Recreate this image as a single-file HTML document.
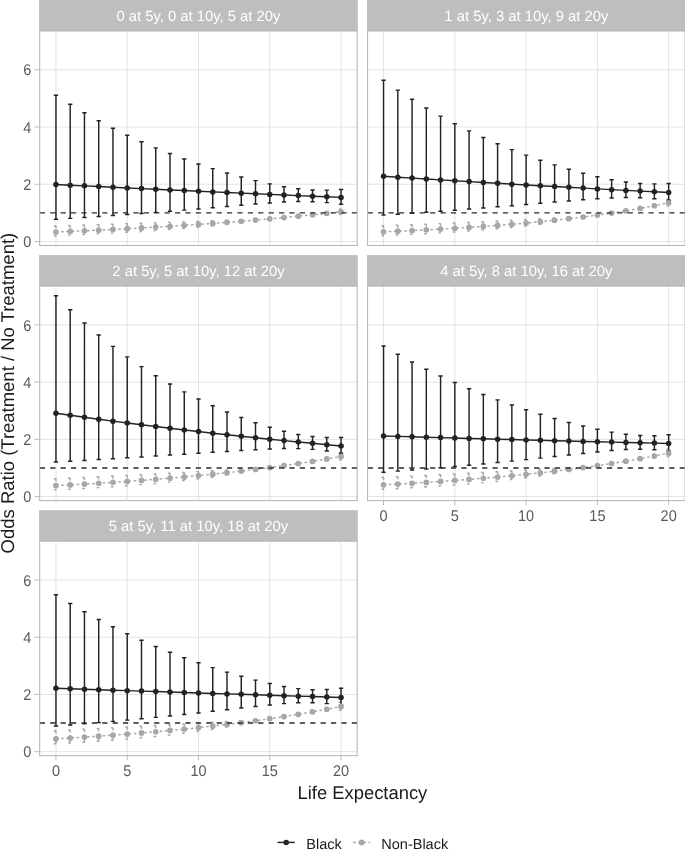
<!DOCTYPE html><html><head><meta charset="utf-8"><style>html,body{margin:0;padding:0;background:#fff;}svg{display:block;will-change:transform;text-rendering:geometricPrecision;}</style></head><body>
<svg width="685" height="862" viewBox="0 0 685 862" font-family='"Liberation Sans", sans-serif'>
<rect width="685" height="862" fill="#fff"/>
<defs><clipPath id="c0"><rect x="39.10" y="31.00" width="318.70" height="214.50"/></clipPath></defs>
<rect x="39.10" y="0.00" width="318.70" height="31.00" fill="#BDBEC0"/>
<text x="198.45" y="20.60" font-size="14.8" fill="#fff" text-anchor="middle">0 at 5y, 0 at 10y, 5 at 20y</text>
<g clip-path="url(#c0)">
<line x1="39.10" x2="357.80" y1="241.50" y2="241.50" stroke="#E0E0E0" stroke-width="0.9"/>
<line x1="39.10" x2="357.80" y1="184.26" y2="184.26" stroke="#E0E0E0" stroke-width="0.9"/>
<line x1="39.10" x2="357.80" y1="127.02" y2="127.02" stroke="#E0E0E0" stroke-width="0.9"/>
<line x1="39.10" x2="357.80" y1="69.78" y2="69.78" stroke="#E0E0E0" stroke-width="0.9"/>
<line x1="55.95" x2="55.95" y1="31.00" y2="245.50" stroke="#E0E0E0" stroke-width="0.9"/>
<line x1="127.23" x2="127.23" y1="31.00" y2="245.50" stroke="#E0E0E0" stroke-width="0.9"/>
<line x1="198.50" x2="198.50" y1="31.00" y2="245.50" stroke="#E0E0E0" stroke-width="0.9"/>
<line x1="269.78" x2="269.78" y1="31.00" y2="245.50" stroke="#E0E0E0" stroke-width="0.9"/>
<line x1="341.05" x2="341.05" y1="31.00" y2="245.50" stroke="#E0E0E0" stroke-width="0.9"/>
<path d="M53.81 225.99H58.09M55.95 225.99V235.68M53.81 235.68H58.09" stroke="#A6A7A9" stroke-width="1.45" fill="none" stroke-dasharray="2.6 2.6"/>
<path d="M68.07 225.54H72.34M70.20 225.54V235.12M68.07 235.12H72.34" stroke="#A6A7A9" stroke-width="1.45" fill="none" stroke-dasharray="2.6 2.6"/>
<path d="M82.32 225.07H86.60M84.46 225.07V234.52M82.32 234.52H86.60" stroke="#A6A7A9" stroke-width="1.45" fill="none" stroke-dasharray="2.6 2.6"/>
<path d="M96.58 224.60H100.85M98.72 224.60V233.85M96.58 233.85H100.85" stroke="#A6A7A9" stroke-width="1.45" fill="none" stroke-dasharray="2.6 2.6"/>
<path d="M110.83 224.11H115.11M112.97 224.11V233.13M110.83 233.13H115.11" stroke="#A6A7A9" stroke-width="1.45" fill="none" stroke-dasharray="2.6 2.6"/>
<path d="M125.09 223.63H129.36M127.23 223.63V232.34M125.09 232.34H129.36" stroke="#A6A7A9" stroke-width="1.45" fill="none" stroke-dasharray="2.6 2.6"/>
<path d="M139.34 223.14H143.62M141.48 223.14V231.48M139.34 231.48H143.62" stroke="#A6A7A9" stroke-width="1.45" fill="none" stroke-dasharray="2.6 2.6"/>
<path d="M153.60 222.64H157.87M155.74 222.64V230.54M153.60 230.54H157.87" stroke="#A6A7A9" stroke-width="1.45" fill="none" stroke-dasharray="2.6 2.6"/>
<path d="M167.85 222.14H172.13M169.99 222.14V229.51M167.85 229.51H172.13" stroke="#A6A7A9" stroke-width="1.45" fill="none" stroke-dasharray="2.6 2.6"/>
<path d="M182.11 221.64H186.38M184.25 221.64V228.39M182.11 228.39H186.38" stroke="#A6A7A9" stroke-width="1.45" fill="none" stroke-dasharray="2.6 2.6"/>
<path d="M196.36 221.15H200.64M198.50 221.15V227.15M196.36 227.15H200.64" stroke="#A6A7A9" stroke-width="1.45" fill="none" stroke-dasharray="2.6 2.6"/>
<path d="M210.62 220.68H214.89M212.75 220.68V225.79M210.62 225.79H214.89" stroke="#A6A7A9" stroke-width="1.45" fill="none" stroke-dasharray="2.6 2.6"/>
<path d="M224.87 220.24H229.15M227.01 220.24V224.27M224.87 224.27H229.15" stroke="#A6A7A9" stroke-width="1.45" fill="none" stroke-dasharray="2.6 2.6"/>
<path d="M239.13 219.91H243.40M241.26 219.91V222.51M239.13 222.51H243.40" stroke="#A6A7A9" stroke-width="1.45" fill="none" stroke-dasharray="2.6 2.6"/>
<path d="M253.38 219.23H257.66M255.52 219.23V220.91M253.38 220.91H257.66" stroke="#A6A7A9" stroke-width="1.45" fill="none" stroke-dasharray="2.6 2.6"/>
<path d="M267.64 217.95H271.91M269.78 217.95V219.73M267.64 219.73H271.91" stroke="#A6A7A9" stroke-width="1.45" fill="none" stroke-dasharray="2.6 2.6"/>
<path d="M281.89 216.61H286.17M284.03 216.61V218.49M281.89 218.49H286.17" stroke="#A6A7A9" stroke-width="1.45" fill="none" stroke-dasharray="2.6 2.6"/>
<path d="M296.15 215.21H300.42M298.29 215.21V217.19M296.15 217.19H300.42" stroke="#A6A7A9" stroke-width="1.45" fill="none" stroke-dasharray="2.6 2.6"/>
<path d="M310.40 213.73H314.68M312.54 213.73V215.82M310.40 215.82H314.68" stroke="#A6A7A9" stroke-width="1.45" fill="none" stroke-dasharray="2.6 2.6"/>
<path d="M324.66 212.10H328.93M326.80 212.10V214.46M324.66 214.46H328.93" stroke="#A6A7A9" stroke-width="1.45" fill="none" stroke-dasharray="2.6 2.6"/>
<path d="M338.91 208.97H343.19M341.05 208.97V214.26M338.91 214.26H343.19" stroke="#A6A7A9" stroke-width="1.45" fill="none" stroke-dasharray="2.6 2.6"/>
<path d="M53.81 95.25H58.09M55.95 95.25V219.25M53.81 219.25H58.09M68.07 104.30H72.34M70.20 104.30V218.37M68.07 218.37H72.34M82.32 112.78H86.60M84.46 112.78V217.46M82.32 217.46H86.60M96.58 120.73H100.85M98.72 120.73V216.51M96.58 216.51H100.85M110.83 128.19H115.11M112.97 128.19V215.53M110.83 215.53H115.11M125.09 135.18H129.36M127.23 135.18V214.51M125.09 214.51H129.36M139.34 141.72H143.62M141.48 141.72V213.46M139.34 213.46H143.62M153.60 147.86H157.87M155.74 147.86V212.38M153.60 212.38H157.87M167.85 153.59H172.13M169.99 153.59V211.26M167.85 211.26H172.13M182.11 158.96H186.38M184.25 158.96V210.10M182.11 210.10H186.38M196.36 163.97H200.64M198.50 163.97V208.92M196.36 208.92H200.64M210.62 168.64H214.89M212.75 168.64V207.72M210.62 207.72H214.89M224.87 172.97H229.15M227.01 172.97V206.50M224.87 206.50H229.15M239.13 176.97H243.40M241.26 176.97V205.28M239.13 205.28H243.40M253.38 180.63H257.66M255.52 180.63V204.09M253.38 204.09H257.66M267.64 183.89H271.91M269.78 183.89V202.99M267.64 202.99H271.91M281.89 186.67H286.17M284.03 186.67V202.08M281.89 202.08H286.17M296.15 188.79H300.42M298.29 188.79V201.56M296.15 201.56H300.42M310.40 189.97H314.68M312.54 189.97V201.70M310.40 201.70H314.68M324.66 190.11H328.93M326.80 190.11V202.63M324.66 202.63H328.93M338.91 189.41H343.19M341.05 189.41V204.16M338.91 204.16H343.19" stroke="#222222" stroke-width="1.45" fill="none"/>
<path d="M55.95 184.46L70.20 185.17L84.46 185.87L98.72 186.56L112.97 187.25L127.23 187.93L141.48 188.61L155.74 189.28L169.99 189.94L184.25 190.59L198.50 191.24L212.75 191.89L227.01 192.52L241.26 193.15L255.52 193.78L269.78 194.40L284.03 195.01L298.29 195.61L312.54 196.21L326.80 196.81L341.05 197.40" stroke="#222222" stroke-width="1.45" fill="none"/>
<path d="M55.95 232.00L70.20 231.41L84.46 230.79L98.72 230.13L112.97 229.44L127.23 228.71L141.48 227.94L155.74 227.12L169.99 226.27L184.25 225.36L198.50 224.41L212.75 223.41L227.01 222.36L241.26 221.25L255.52 220.08L269.78 218.86L284.03 217.57L298.29 216.22L312.54 214.79L326.80 213.30L341.05 211.74" stroke="#A6A7A9" stroke-width="1.45" fill="none" stroke-dasharray="2.6 2.6"/>
<circle cx="55.95" cy="184.46" r="2.75" fill="#222222"/>
<circle cx="55.95" cy="232.00" r="2.85" fill="#A6A7A9"/>
<circle cx="70.20" cy="185.17" r="2.75" fill="#222222"/>
<circle cx="70.20" cy="231.41" r="2.85" fill="#A6A7A9"/>
<circle cx="84.46" cy="185.87" r="2.75" fill="#222222"/>
<circle cx="84.46" cy="230.79" r="2.85" fill="#A6A7A9"/>
<circle cx="98.72" cy="186.56" r="2.75" fill="#222222"/>
<circle cx="98.72" cy="230.13" r="2.85" fill="#A6A7A9"/>
<circle cx="112.97" cy="187.25" r="2.75" fill="#222222"/>
<circle cx="112.97" cy="229.44" r="2.85" fill="#A6A7A9"/>
<circle cx="127.23" cy="187.93" r="2.75" fill="#222222"/>
<circle cx="127.23" cy="228.71" r="2.85" fill="#A6A7A9"/>
<circle cx="141.48" cy="188.61" r="2.75" fill="#222222"/>
<circle cx="141.48" cy="227.94" r="2.85" fill="#A6A7A9"/>
<circle cx="155.74" cy="189.28" r="2.75" fill="#222222"/>
<circle cx="155.74" cy="227.12" r="2.85" fill="#A6A7A9"/>
<circle cx="169.99" cy="189.94" r="2.75" fill="#222222"/>
<circle cx="169.99" cy="226.27" r="2.85" fill="#A6A7A9"/>
<circle cx="184.25" cy="190.59" r="2.75" fill="#222222"/>
<circle cx="184.25" cy="225.36" r="2.85" fill="#A6A7A9"/>
<circle cx="198.50" cy="191.24" r="2.75" fill="#222222"/>
<circle cx="198.50" cy="224.41" r="2.85" fill="#A6A7A9"/>
<circle cx="212.75" cy="191.89" r="2.75" fill="#222222"/>
<circle cx="212.75" cy="223.41" r="2.85" fill="#A6A7A9"/>
<circle cx="227.01" cy="192.52" r="2.75" fill="#222222"/>
<circle cx="227.01" cy="222.36" r="2.85" fill="#A6A7A9"/>
<circle cx="241.26" cy="193.15" r="2.75" fill="#222222"/>
<circle cx="241.26" cy="221.25" r="2.85" fill="#A6A7A9"/>
<circle cx="255.52" cy="193.78" r="2.75" fill="#222222"/>
<circle cx="255.52" cy="220.08" r="2.85" fill="#A6A7A9"/>
<circle cx="269.78" cy="194.40" r="2.75" fill="#222222"/>
<circle cx="269.78" cy="218.86" r="2.85" fill="#A6A7A9"/>
<circle cx="284.03" cy="195.01" r="2.75" fill="#222222"/>
<circle cx="284.03" cy="217.57" r="2.85" fill="#A6A7A9"/>
<circle cx="298.29" cy="195.61" r="2.75" fill="#222222"/>
<circle cx="298.29" cy="216.22" r="2.85" fill="#A6A7A9"/>
<circle cx="312.54" cy="196.21" r="2.75" fill="#222222"/>
<circle cx="312.54" cy="214.79" r="2.85" fill="#A6A7A9"/>
<circle cx="326.80" cy="196.81" r="2.75" fill="#222222"/>
<circle cx="326.80" cy="213.30" r="2.85" fill="#A6A7A9"/>
<circle cx="341.05" cy="197.40" r="2.75" fill="#222222"/>
<circle cx="341.05" cy="211.74" r="2.85" fill="#A6A7A9"/>
<line x1="39.10" x2="357.80" y1="212.88" y2="212.88" stroke="#2a2a2a" stroke-width="1.45" stroke-dasharray="5.2 5.2" stroke-dashoffset="-0.7"/>
</g>
<path d="M39.10 31.00H357.80M39.10 245.50H357.80M39.70 31.00V245.50M357.20 31.00V245.50" fill="none" stroke="#B3B3B3" stroke-width="1.0"/>
<line x1="34.60" x2="39.10" y1="241.50" y2="241.50" stroke="#B3B3B3" stroke-width="0.9"/>
<text transform="translate(31.30,247.20) scale(1,1.07)" font-size="14.5" fill="#595959" text-anchor="end">0</text>
<line x1="34.60" x2="39.10" y1="184.26" y2="184.26" stroke="#B3B3B3" stroke-width="0.9"/>
<text transform="translate(31.30,189.96) scale(1,1.07)" font-size="14.5" fill="#595959" text-anchor="end">2</text>
<line x1="34.60" x2="39.10" y1="127.02" y2="127.02" stroke="#B3B3B3" stroke-width="0.9"/>
<text transform="translate(31.30,132.72) scale(1,1.07)" font-size="14.5" fill="#595959" text-anchor="end">4</text>
<line x1="34.60" x2="39.10" y1="69.78" y2="69.78" stroke="#B3B3B3" stroke-width="0.9"/>
<text transform="translate(31.30,75.48) scale(1,1.07)" font-size="14.5" fill="#595959" text-anchor="end">6</text>
<defs><clipPath id="c1"><rect x="367.00" y="31.00" width="318.70" height="214.50"/></clipPath></defs>
<rect x="367.00" y="0.00" width="318.70" height="31.00" fill="#BDBEC0"/>
<text x="526.35" y="20.60" font-size="14.8" fill="#fff" text-anchor="middle">1 at 5y, 3 at 10y, 9 at 20y</text>
<g clip-path="url(#c1)">
<line x1="367.00" x2="685.70" y1="241.50" y2="241.50" stroke="#E0E0E0" stroke-width="0.9"/>
<line x1="367.00" x2="685.70" y1="184.26" y2="184.26" stroke="#E0E0E0" stroke-width="0.9"/>
<line x1="367.00" x2="685.70" y1="127.02" y2="127.02" stroke="#E0E0E0" stroke-width="0.9"/>
<line x1="367.00" x2="685.70" y1="69.78" y2="69.78" stroke="#E0E0E0" stroke-width="0.9"/>
<line x1="383.55" x2="383.55" y1="31.00" y2="245.50" stroke="#E0E0E0" stroke-width="0.9"/>
<line x1="454.83" x2="454.83" y1="31.00" y2="245.50" stroke="#E0E0E0" stroke-width="0.9"/>
<line x1="526.10" x2="526.10" y1="31.00" y2="245.50" stroke="#E0E0E0" stroke-width="0.9"/>
<line x1="597.38" x2="597.38" y1="31.00" y2="245.50" stroke="#E0E0E0" stroke-width="0.9"/>
<line x1="668.65" x2="668.65" y1="31.00" y2="245.50" stroke="#E0E0E0" stroke-width="0.9"/>
<path d="M381.41 225.67H385.69M383.55 225.67V235.55M381.41 235.55H385.69" stroke="#A6A7A9" stroke-width="1.45" fill="none" stroke-dasharray="2.6 2.6"/>
<path d="M395.67 225.20H399.94M397.81 225.20V234.99M395.67 234.99H399.94" stroke="#A6A7A9" stroke-width="1.45" fill="none" stroke-dasharray="2.6 2.6"/>
<path d="M409.92 224.70H414.20M412.06 224.70V234.36M409.92 234.36H414.20" stroke="#A6A7A9" stroke-width="1.45" fill="none" stroke-dasharray="2.6 2.6"/>
<path d="M424.18 224.18H428.45M426.31 224.18V233.67M424.18 233.67H428.45" stroke="#A6A7A9" stroke-width="1.45" fill="none" stroke-dasharray="2.6 2.6"/>
<path d="M438.43 223.62H442.71M440.57 223.62V232.89M438.43 232.89H442.71" stroke="#A6A7A9" stroke-width="1.45" fill="none" stroke-dasharray="2.6 2.6"/>
<path d="M452.69 223.02H456.96M454.83 223.02V232.03M452.69 232.03H456.96" stroke="#A6A7A9" stroke-width="1.45" fill="none" stroke-dasharray="2.6 2.6"/>
<path d="M466.94 222.40H471.22M469.08 222.40V231.08M466.94 231.08H471.22" stroke="#A6A7A9" stroke-width="1.45" fill="none" stroke-dasharray="2.6 2.6"/>
<path d="M481.20 221.73H485.47M483.34 221.73V230.01M481.20 230.01H485.47" stroke="#A6A7A9" stroke-width="1.45" fill="none" stroke-dasharray="2.6 2.6"/>
<path d="M495.45 221.03H499.73M497.59 221.03V228.82M495.45 228.82H499.73" stroke="#A6A7A9" stroke-width="1.45" fill="none" stroke-dasharray="2.6 2.6"/>
<path d="M509.71 220.29H513.98M511.85 220.29V227.49M509.71 227.49H513.98" stroke="#A6A7A9" stroke-width="1.45" fill="none" stroke-dasharray="2.6 2.6"/>
<path d="M523.96 219.52H528.24M526.10 219.52V226.00M523.96 226.00H528.24" stroke="#A6A7A9" stroke-width="1.45" fill="none" stroke-dasharray="2.6 2.6"/>
<path d="M538.22 218.72H542.49M540.36 218.72V224.31M538.22 224.31H542.49" stroke="#A6A7A9" stroke-width="1.45" fill="none" stroke-dasharray="2.6 2.6"/>
<path d="M552.47 217.91H556.75M554.61 217.91V222.38M552.47 222.38H556.75" stroke="#A6A7A9" stroke-width="1.45" fill="none" stroke-dasharray="2.6 2.6"/>
<path d="M566.73 217.18H571.00M568.87 217.18V220.11M566.73 220.11H571.00" stroke="#A6A7A9" stroke-width="1.45" fill="none" stroke-dasharray="2.6 2.6"/>
<path d="M580.98 216.00H585.26M583.12 216.00V217.92M580.98 217.92H585.26" stroke="#A6A7A9" stroke-width="1.45" fill="none" stroke-dasharray="2.6 2.6"/>
<path d="M595.24 214.05H599.51M597.38 214.05V216.12M595.24 216.12H599.51" stroke="#A6A7A9" stroke-width="1.45" fill="none" stroke-dasharray="2.6 2.6"/>
<path d="M609.49 211.94H613.77M611.63 211.94V214.17M609.49 214.17H613.77" stroke="#A6A7A9" stroke-width="1.45" fill="none" stroke-dasharray="2.6 2.6"/>
<path d="M623.75 209.63H628.02M625.88 209.63V212.03M623.75 212.03H628.02" stroke="#A6A7A9" stroke-width="1.45" fill="none" stroke-dasharray="2.6 2.6"/>
<path d="M638.00 207.10H642.28M640.14 207.10V209.69M638.00 209.69H642.28" stroke="#A6A7A9" stroke-width="1.45" fill="none" stroke-dasharray="2.6 2.6"/>
<path d="M652.26 204.24H656.53M654.39 204.24V207.23M652.26 207.23H656.53" stroke="#A6A7A9" stroke-width="1.45" fill="none" stroke-dasharray="2.6 2.6"/>
<path d="M666.51 199.28H670.79M668.65 199.28V206.14M666.51 206.14H670.79" stroke="#A6A7A9" stroke-width="1.45" fill="none" stroke-dasharray="2.6 2.6"/>
<path d="M381.41 80.25H385.69M383.55 80.25V215.12M381.41 215.12H385.69M395.67 90.10H399.94M397.81 90.10V214.19M395.67 214.19H399.94M409.92 99.33H414.20M412.06 99.33V213.23M409.92 213.23H414.20M424.18 107.99H428.45M426.31 107.99V212.24M424.18 212.24H428.45M438.43 116.11H442.71M440.57 116.11V211.22M438.43 211.22H442.71M452.69 123.72H456.96M454.83 123.72V210.17M452.69 210.17H456.96M466.94 130.86H471.22M469.08 130.86V209.08M466.94 209.08H471.22M481.20 137.54H485.47M483.34 137.54V207.97M481.20 207.97H485.47M495.45 143.79H499.73M497.59 143.79V206.83M495.45 206.83H499.73M509.71 149.64H513.98M511.85 149.64V205.67M509.71 205.67H513.98M523.96 155.10H528.24M526.10 155.10V204.48M523.96 204.48H528.24M538.22 160.18H542.49M540.36 160.18V203.29M538.22 203.29H542.49M552.47 164.89H556.75M554.61 164.89V202.09M552.47 202.09H556.75M566.73 169.23H571.00M568.87 169.23V200.90M566.73 200.90H571.00M580.98 173.19H585.26M583.12 173.19V199.77M580.98 199.77H585.26M595.24 176.71H599.51M597.38 176.71V198.76M595.24 198.76H599.51M609.49 179.71H613.77M611.63 179.71V197.96M609.49 197.96H613.77M623.75 182.02H628.02M625.88 182.02V197.56M623.75 197.56H628.02M638.00 183.45H642.28M640.14 183.45V197.77M638.00 197.77H642.28M652.26 183.88H656.53M654.39 183.88V198.71M652.26 198.71H656.53M666.51 183.46H670.79M668.65 183.46V200.23M666.51 200.23H670.79" stroke="#222222" stroke-width="1.45" fill="none"/>
<path d="M383.55 176.28L397.81 177.19L412.06 178.10L426.31 179.00L440.57 179.88L454.83 180.75L469.08 181.61L483.34 182.46L497.59 183.30L511.85 184.13L526.10 184.95L540.36 185.75L554.61 186.55L568.87 187.34L583.12 188.11L597.38 188.88L611.63 189.63L625.88 190.38L640.14 191.12L654.39 191.84L668.65 192.56" stroke="#222222" stroke-width="1.45" fill="none"/>
<path d="M383.55 231.80L397.81 231.20L412.06 230.55L426.31 229.85L440.57 229.09L454.83 228.28L469.08 227.39L483.34 226.43L497.59 225.39L511.85 224.26L526.10 223.04L540.36 221.71L554.61 220.26L568.87 218.69L583.12 216.98L597.38 215.11L611.63 213.07L625.88 210.85L640.14 208.42L654.39 205.77L668.65 202.86" stroke="#A6A7A9" stroke-width="1.45" fill="none" stroke-dasharray="2.6 2.6"/>
<circle cx="383.55" cy="176.28" r="2.75" fill="#222222"/>
<circle cx="383.55" cy="231.80" r="2.85" fill="#A6A7A9"/>
<circle cx="397.81" cy="177.19" r="2.75" fill="#222222"/>
<circle cx="397.81" cy="231.20" r="2.85" fill="#A6A7A9"/>
<circle cx="412.06" cy="178.10" r="2.75" fill="#222222"/>
<circle cx="412.06" cy="230.55" r="2.85" fill="#A6A7A9"/>
<circle cx="426.31" cy="179.00" r="2.75" fill="#222222"/>
<circle cx="426.31" cy="229.85" r="2.85" fill="#A6A7A9"/>
<circle cx="440.57" cy="179.88" r="2.75" fill="#222222"/>
<circle cx="440.57" cy="229.09" r="2.85" fill="#A6A7A9"/>
<circle cx="454.83" cy="180.75" r="2.75" fill="#222222"/>
<circle cx="454.83" cy="228.28" r="2.85" fill="#A6A7A9"/>
<circle cx="469.08" cy="181.61" r="2.75" fill="#222222"/>
<circle cx="469.08" cy="227.39" r="2.85" fill="#A6A7A9"/>
<circle cx="483.34" cy="182.46" r="2.75" fill="#222222"/>
<circle cx="483.34" cy="226.43" r="2.85" fill="#A6A7A9"/>
<circle cx="497.59" cy="183.30" r="2.75" fill="#222222"/>
<circle cx="497.59" cy="225.39" r="2.85" fill="#A6A7A9"/>
<circle cx="511.85" cy="184.13" r="2.75" fill="#222222"/>
<circle cx="511.85" cy="224.26" r="2.85" fill="#A6A7A9"/>
<circle cx="526.10" cy="184.95" r="2.75" fill="#222222"/>
<circle cx="526.10" cy="223.04" r="2.85" fill="#A6A7A9"/>
<circle cx="540.36" cy="185.75" r="2.75" fill="#222222"/>
<circle cx="540.36" cy="221.71" r="2.85" fill="#A6A7A9"/>
<circle cx="554.61" cy="186.55" r="2.75" fill="#222222"/>
<circle cx="554.61" cy="220.26" r="2.85" fill="#A6A7A9"/>
<circle cx="568.87" cy="187.34" r="2.75" fill="#222222"/>
<circle cx="568.87" cy="218.69" r="2.85" fill="#A6A7A9"/>
<circle cx="583.12" cy="188.11" r="2.75" fill="#222222"/>
<circle cx="583.12" cy="216.98" r="2.85" fill="#A6A7A9"/>
<circle cx="597.38" cy="188.88" r="2.75" fill="#222222"/>
<circle cx="597.38" cy="215.11" r="2.85" fill="#A6A7A9"/>
<circle cx="611.63" cy="189.63" r="2.75" fill="#222222"/>
<circle cx="611.63" cy="213.07" r="2.85" fill="#A6A7A9"/>
<circle cx="625.88" cy="190.38" r="2.75" fill="#222222"/>
<circle cx="625.88" cy="210.85" r="2.85" fill="#A6A7A9"/>
<circle cx="640.14" cy="191.12" r="2.75" fill="#222222"/>
<circle cx="640.14" cy="208.42" r="2.85" fill="#A6A7A9"/>
<circle cx="654.39" cy="191.84" r="2.75" fill="#222222"/>
<circle cx="654.39" cy="205.77" r="2.85" fill="#A6A7A9"/>
<circle cx="668.65" cy="192.56" r="2.75" fill="#222222"/>
<circle cx="668.65" cy="202.86" r="2.85" fill="#A6A7A9"/>
<line x1="367.00" x2="685.70" y1="212.88" y2="212.88" stroke="#2a2a2a" stroke-width="1.45" stroke-dasharray="5.2 5.2" stroke-dashoffset="-0.7"/>
</g>
<path d="M367.00 31.00H685.70M367.00 245.50H685.70M367.60 31.00V245.50M685.10 31.00V245.50" fill="none" stroke="#B3B3B3" stroke-width="1.0"/>
<defs><clipPath id="c2"><rect x="39.10" y="286.10" width="318.70" height="214.50"/></clipPath></defs>
<rect x="39.10" y="255.10" width="318.70" height="31.00" fill="#BDBEC0"/>
<text x="198.45" y="275.70" font-size="14.8" fill="#fff" text-anchor="middle">2 at 5y, 5 at 10y, 12 at 20y</text>
<g clip-path="url(#c2)">
<line x1="39.10" x2="357.80" y1="496.60" y2="496.60" stroke="#E0E0E0" stroke-width="0.9"/>
<line x1="39.10" x2="357.80" y1="439.36" y2="439.36" stroke="#E0E0E0" stroke-width="0.9"/>
<line x1="39.10" x2="357.80" y1="382.12" y2="382.12" stroke="#E0E0E0" stroke-width="0.9"/>
<line x1="39.10" x2="357.80" y1="324.88" y2="324.88" stroke="#E0E0E0" stroke-width="0.9"/>
<line x1="55.95" x2="55.95" y1="286.10" y2="500.60" stroke="#E0E0E0" stroke-width="0.9"/>
<line x1="127.23" x2="127.23" y1="286.10" y2="500.60" stroke="#E0E0E0" stroke-width="0.9"/>
<line x1="198.50" x2="198.50" y1="286.10" y2="500.60" stroke="#E0E0E0" stroke-width="0.9"/>
<line x1="269.78" x2="269.78" y1="286.10" y2="500.60" stroke="#E0E0E0" stroke-width="0.9"/>
<line x1="341.05" x2="341.05" y1="286.10" y2="500.60" stroke="#E0E0E0" stroke-width="0.9"/>
<path d="M53.81 478.67H58.09M55.95 478.67V489.87M53.81 489.87H58.09" stroke="#A6A7A9" stroke-width="1.45" fill="none" stroke-dasharray="2.6 2.6"/>
<path d="M68.07 478.05H72.34M70.20 478.05V489.19M68.07 489.19H72.34" stroke="#A6A7A9" stroke-width="1.45" fill="none" stroke-dasharray="2.6 2.6"/>
<path d="M82.32 477.42H86.60M84.46 477.42V488.45M82.32 488.45H86.60" stroke="#A6A7A9" stroke-width="1.45" fill="none" stroke-dasharray="2.6 2.6"/>
<path d="M96.58 476.77H100.85M98.72 476.77V487.63M96.58 487.63H100.85" stroke="#A6A7A9" stroke-width="1.45" fill="none" stroke-dasharray="2.6 2.6"/>
<path d="M110.83 476.09H115.11M112.97 476.09V486.73M110.83 486.73H115.11" stroke="#A6A7A9" stroke-width="1.45" fill="none" stroke-dasharray="2.6 2.6"/>
<path d="M125.09 475.39H129.36M127.23 475.39V485.74M125.09 485.74H129.36" stroke="#A6A7A9" stroke-width="1.45" fill="none" stroke-dasharray="2.6 2.6"/>
<path d="M139.34 474.68H143.62M141.48 474.68V484.64M139.34 484.64H143.62" stroke="#A6A7A9" stroke-width="1.45" fill="none" stroke-dasharray="2.6 2.6"/>
<path d="M153.60 473.94H157.87M155.74 473.94V483.43M153.60 483.43H157.87" stroke="#A6A7A9" stroke-width="1.45" fill="none" stroke-dasharray="2.6 2.6"/>
<path d="M167.85 473.18H172.13M169.99 473.18V482.10M167.85 482.10H172.13" stroke="#A6A7A9" stroke-width="1.45" fill="none" stroke-dasharray="2.6 2.6"/>
<path d="M182.11 472.40H186.38M184.25 472.40V480.62M182.11 480.62H186.38" stroke="#A6A7A9" stroke-width="1.45" fill="none" stroke-dasharray="2.6 2.6"/>
<path d="M196.36 471.62H200.64M198.50 471.62V478.98M196.36 478.98H200.64" stroke="#A6A7A9" stroke-width="1.45" fill="none" stroke-dasharray="2.6 2.6"/>
<path d="M210.62 470.83H214.89M212.75 470.83V477.16M210.62 477.16H214.89" stroke="#A6A7A9" stroke-width="1.45" fill="none" stroke-dasharray="2.6 2.6"/>
<path d="M224.87 470.07H229.15M227.01 470.07V475.10M224.87 475.10H229.15" stroke="#A6A7A9" stroke-width="1.45" fill="none" stroke-dasharray="2.6 2.6"/>
<path d="M239.13 469.43H243.40M241.26 469.43V472.70M239.13 472.70H243.40" stroke="#A6A7A9" stroke-width="1.45" fill="none" stroke-dasharray="2.6 2.6"/>
<path d="M253.38 468.32H257.66M255.52 468.32V470.45M253.38 470.45H257.66" stroke="#A6A7A9" stroke-width="1.45" fill="none" stroke-dasharray="2.6 2.6"/>
<path d="M267.64 466.43H271.91M269.78 466.43V468.70M267.64 468.70H271.91" stroke="#A6A7A9" stroke-width="1.45" fill="none" stroke-dasharray="2.6 2.6"/>
<path d="M281.89 464.40H286.17M284.03 464.40V466.83M281.89 466.83H286.17" stroke="#A6A7A9" stroke-width="1.45" fill="none" stroke-dasharray="2.6 2.6"/>
<path d="M296.15 462.24H300.42M298.29 462.24V464.83M296.15 464.83H300.42" stroke="#A6A7A9" stroke-width="1.45" fill="none" stroke-dasharray="2.6 2.6"/>
<path d="M310.40 459.93H314.68M312.54 459.93V462.70M310.40 462.70H314.68" stroke="#A6A7A9" stroke-width="1.45" fill="none" stroke-dasharray="2.6 2.6"/>
<path d="M324.66 457.37H328.93M326.80 457.37V460.51M324.66 460.51H328.93" stroke="#A6A7A9" stroke-width="1.45" fill="none" stroke-dasharray="2.6 2.6"/>
<path d="M338.91 452.72H343.19M341.05 452.72V459.86M338.91 459.86H343.19" stroke="#A6A7A9" stroke-width="1.45" fill="none" stroke-dasharray="2.6 2.6"/>
<path d="M53.81 295.72H58.09M55.95 295.72V462.05M53.81 462.05H58.09M68.07 309.80H72.34M70.20 309.80V461.23M68.07 461.23H72.34M82.32 322.90H86.60M84.46 322.90V460.40M82.32 460.40H86.60M96.58 335.06H100.85M98.72 335.06V459.55M96.58 459.55H100.85M110.83 346.37H115.11M112.97 346.37V458.69M110.83 458.69H115.11M125.09 356.87H129.36M127.23 356.87V457.81M125.09 457.81H129.36M139.34 366.62H143.62M141.48 366.62V456.92M139.34 456.92H143.62M153.60 375.68H157.87M155.74 375.68V456.01M153.60 456.01H157.87M167.85 384.08H172.13M169.99 384.08V455.09M167.85 455.09H172.13M182.11 391.87H186.38M184.25 391.87V454.17M182.11 454.17H186.38M196.36 399.09H200.64M198.50 399.09V453.24M196.36 453.24H200.64M210.62 405.77H214.89M212.75 405.77V452.31M210.62 452.31H214.89M224.87 411.92H229.15M227.01 411.92V451.40M224.87 451.40H229.15M239.13 417.58H243.40M241.26 417.58V450.52M239.13 450.52H243.40M253.38 422.73H257.66M255.52 422.73V449.71M253.38 449.71H257.66M267.64 427.33H271.91M269.78 427.33V449.02M267.64 449.02H271.91M281.89 431.31H286.17M284.03 431.31V448.58M281.89 448.58H286.17M296.15 434.48H300.42M298.29 434.48V448.60M296.15 448.60H300.42M310.40 436.56H314.68M312.54 436.56V449.35M310.40 449.35H314.68M324.66 437.47H328.93M326.80 437.47V450.97M324.66 450.97H328.93M338.91 437.47H343.19M341.05 437.47V453.20M338.91 453.20H343.19" stroke="#222222" stroke-width="1.45" fill="none"/>
<path d="M55.95 413.29L70.20 415.32L84.46 417.30L98.72 419.24L112.97 421.13L127.23 422.98L141.48 424.78L155.74 426.54L169.99 428.26L184.25 429.94L198.50 431.58L212.75 433.17L227.01 434.73L241.26 436.26L255.52 437.74L269.78 439.19L284.03 440.61L298.29 441.99L312.54 443.34L326.80 444.66L341.05 445.94" stroke="#222222" stroke-width="1.45" fill="none"/>
<path d="M55.95 485.61L70.20 484.88L84.46 484.10L98.72 483.26L112.97 482.37L127.23 481.42L141.48 480.41L155.74 479.33L169.99 478.17L184.25 476.94L198.50 475.62L212.75 474.22L227.01 472.72L241.26 471.12L255.52 469.41L269.78 467.59L284.03 465.64L298.29 463.56L312.54 461.34L326.80 458.97L341.05 456.45" stroke="#A6A7A9" stroke-width="1.45" fill="none" stroke-dasharray="2.6 2.6"/>
<circle cx="55.95" cy="413.29" r="2.75" fill="#222222"/>
<circle cx="55.95" cy="485.61" r="2.85" fill="#A6A7A9"/>
<circle cx="70.20" cy="415.32" r="2.75" fill="#222222"/>
<circle cx="70.20" cy="484.88" r="2.85" fill="#A6A7A9"/>
<circle cx="84.46" cy="417.30" r="2.75" fill="#222222"/>
<circle cx="84.46" cy="484.10" r="2.85" fill="#A6A7A9"/>
<circle cx="98.72" cy="419.24" r="2.75" fill="#222222"/>
<circle cx="98.72" cy="483.26" r="2.85" fill="#A6A7A9"/>
<circle cx="112.97" cy="421.13" r="2.75" fill="#222222"/>
<circle cx="112.97" cy="482.37" r="2.85" fill="#A6A7A9"/>
<circle cx="127.23" cy="422.98" r="2.75" fill="#222222"/>
<circle cx="127.23" cy="481.42" r="2.85" fill="#A6A7A9"/>
<circle cx="141.48" cy="424.78" r="2.75" fill="#222222"/>
<circle cx="141.48" cy="480.41" r="2.85" fill="#A6A7A9"/>
<circle cx="155.74" cy="426.54" r="2.75" fill="#222222"/>
<circle cx="155.74" cy="479.33" r="2.85" fill="#A6A7A9"/>
<circle cx="169.99" cy="428.26" r="2.75" fill="#222222"/>
<circle cx="169.99" cy="478.17" r="2.85" fill="#A6A7A9"/>
<circle cx="184.25" cy="429.94" r="2.75" fill="#222222"/>
<circle cx="184.25" cy="476.94" r="2.85" fill="#A6A7A9"/>
<circle cx="198.50" cy="431.58" r="2.75" fill="#222222"/>
<circle cx="198.50" cy="475.62" r="2.85" fill="#A6A7A9"/>
<circle cx="212.75" cy="433.17" r="2.75" fill="#222222"/>
<circle cx="212.75" cy="474.22" r="2.85" fill="#A6A7A9"/>
<circle cx="227.01" cy="434.73" r="2.75" fill="#222222"/>
<circle cx="227.01" cy="472.72" r="2.85" fill="#A6A7A9"/>
<circle cx="241.26" cy="436.26" r="2.75" fill="#222222"/>
<circle cx="241.26" cy="471.12" r="2.85" fill="#A6A7A9"/>
<circle cx="255.52" cy="437.74" r="2.75" fill="#222222"/>
<circle cx="255.52" cy="469.41" r="2.85" fill="#A6A7A9"/>
<circle cx="269.78" cy="439.19" r="2.75" fill="#222222"/>
<circle cx="269.78" cy="467.59" r="2.85" fill="#A6A7A9"/>
<circle cx="284.03" cy="440.61" r="2.75" fill="#222222"/>
<circle cx="284.03" cy="465.64" r="2.85" fill="#A6A7A9"/>
<circle cx="298.29" cy="441.99" r="2.75" fill="#222222"/>
<circle cx="298.29" cy="463.56" r="2.85" fill="#A6A7A9"/>
<circle cx="312.54" cy="443.34" r="2.75" fill="#222222"/>
<circle cx="312.54" cy="461.34" r="2.85" fill="#A6A7A9"/>
<circle cx="326.80" cy="444.66" r="2.75" fill="#222222"/>
<circle cx="326.80" cy="458.97" r="2.85" fill="#A6A7A9"/>
<circle cx="341.05" cy="445.94" r="2.75" fill="#222222"/>
<circle cx="341.05" cy="456.45" r="2.85" fill="#A6A7A9"/>
<line x1="39.10" x2="357.80" y1="467.98" y2="467.98" stroke="#2a2a2a" stroke-width="1.45" stroke-dasharray="5.2 5.2" stroke-dashoffset="-0.7"/>
</g>
<path d="M39.10 286.10H357.80M39.10 500.60H357.80M39.70 286.10V500.60M357.20 286.10V500.60" fill="none" stroke="#B3B3B3" stroke-width="1.0"/>
<line x1="34.60" x2="39.10" y1="496.60" y2="496.60" stroke="#B3B3B3" stroke-width="0.9"/>
<text transform="translate(31.30,502.30) scale(1,1.07)" font-size="14.5" fill="#595959" text-anchor="end">0</text>
<line x1="34.60" x2="39.10" y1="439.36" y2="439.36" stroke="#B3B3B3" stroke-width="0.9"/>
<text transform="translate(31.30,445.06) scale(1,1.07)" font-size="14.5" fill="#595959" text-anchor="end">2</text>
<line x1="34.60" x2="39.10" y1="382.12" y2="382.12" stroke="#B3B3B3" stroke-width="0.9"/>
<text transform="translate(31.30,387.82) scale(1,1.07)" font-size="14.5" fill="#595959" text-anchor="end">4</text>
<line x1="34.60" x2="39.10" y1="324.88" y2="324.88" stroke="#B3B3B3" stroke-width="0.9"/>
<text transform="translate(31.30,330.58) scale(1,1.07)" font-size="14.5" fill="#595959" text-anchor="end">6</text>
<defs><clipPath id="c3"><rect x="367.00" y="286.10" width="318.70" height="214.50"/></clipPath></defs>
<rect x="367.00" y="255.10" width="318.70" height="31.00" fill="#BDBEC0"/>
<text x="526.35" y="275.70" font-size="14.8" fill="#fff" text-anchor="middle">4 at 5y, 8 at 10y, 16 at 20y</text>
<g clip-path="url(#c3)">
<line x1="367.00" x2="685.70" y1="496.60" y2="496.60" stroke="#E0E0E0" stroke-width="0.9"/>
<line x1="367.00" x2="685.70" y1="439.36" y2="439.36" stroke="#E0E0E0" stroke-width="0.9"/>
<line x1="367.00" x2="685.70" y1="382.12" y2="382.12" stroke="#E0E0E0" stroke-width="0.9"/>
<line x1="367.00" x2="685.70" y1="324.88" y2="324.88" stroke="#E0E0E0" stroke-width="0.9"/>
<line x1="383.55" x2="383.55" y1="286.10" y2="500.60" stroke="#E0E0E0" stroke-width="0.9"/>
<line x1="454.83" x2="454.83" y1="286.10" y2="500.60" stroke="#E0E0E0" stroke-width="0.9"/>
<line x1="526.10" x2="526.10" y1="286.10" y2="500.60" stroke="#E0E0E0" stroke-width="0.9"/>
<line x1="597.38" x2="597.38" y1="286.10" y2="500.60" stroke="#E0E0E0" stroke-width="0.9"/>
<line x1="668.65" x2="668.65" y1="286.10" y2="500.60" stroke="#E0E0E0" stroke-width="0.9"/>
<path d="M381.41 477.36H385.69M383.55 477.36V489.37M381.41 489.37H385.69" stroke="#A6A7A9" stroke-width="1.45" fill="none" stroke-dasharray="2.6 2.6"/>
<path d="M395.67 476.75H399.94M397.81 476.75V488.67M395.67 488.67H399.94" stroke="#A6A7A9" stroke-width="1.45" fill="none" stroke-dasharray="2.6 2.6"/>
<path d="M409.92 476.11H414.20M412.06 476.11V487.89M409.92 487.89H414.20" stroke="#A6A7A9" stroke-width="1.45" fill="none" stroke-dasharray="2.6 2.6"/>
<path d="M424.18 475.45H428.45M426.31 475.45V487.04M424.18 487.04H428.45" stroke="#A6A7A9" stroke-width="1.45" fill="none" stroke-dasharray="2.6 2.6"/>
<path d="M438.43 474.77H442.71M440.57 474.77V486.09M438.43 486.09H442.71" stroke="#A6A7A9" stroke-width="1.45" fill="none" stroke-dasharray="2.6 2.6"/>
<path d="M452.69 474.05H456.96M454.83 474.05V485.05M452.69 485.05H456.96" stroke="#A6A7A9" stroke-width="1.45" fill="none" stroke-dasharray="2.6 2.6"/>
<path d="M466.94 473.31H471.22M469.08 473.31V483.90M466.94 483.90H471.22" stroke="#A6A7A9" stroke-width="1.45" fill="none" stroke-dasharray="2.6 2.6"/>
<path d="M481.20 472.54H485.47M483.34 472.54V482.62M481.20 482.62H485.47" stroke="#A6A7A9" stroke-width="1.45" fill="none" stroke-dasharray="2.6 2.6"/>
<path d="M495.45 471.75H499.73M497.59 471.75V481.21M495.45 481.21H499.73" stroke="#A6A7A9" stroke-width="1.45" fill="none" stroke-dasharray="2.6 2.6"/>
<path d="M509.71 470.93H513.98M511.85 470.93V479.64M509.71 479.64H513.98" stroke="#A6A7A9" stroke-width="1.45" fill="none" stroke-dasharray="2.6 2.6"/>
<path d="M523.96 470.08H528.24M526.10 470.08V477.90M523.96 477.90H528.24" stroke="#A6A7A9" stroke-width="1.45" fill="none" stroke-dasharray="2.6 2.6"/>
<path d="M538.22 469.23H542.49M540.36 469.23V475.95M538.22 475.95H542.49" stroke="#A6A7A9" stroke-width="1.45" fill="none" stroke-dasharray="2.6 2.6"/>
<path d="M552.47 468.40H556.75M554.61 468.40V473.75M552.47 473.75H556.75" stroke="#A6A7A9" stroke-width="1.45" fill="none" stroke-dasharray="2.6 2.6"/>
<path d="M566.73 467.68H571.00M568.87 467.68V471.17M566.73 471.17H571.00" stroke="#A6A7A9" stroke-width="1.45" fill="none" stroke-dasharray="2.6 2.6"/>
<path d="M580.98 466.46H585.26M583.12 466.46V468.74M580.98 468.74H585.26" stroke="#A6A7A9" stroke-width="1.45" fill="none" stroke-dasharray="2.6 2.6"/>
<path d="M595.24 464.39H599.51M597.38 464.39V466.82M595.24 466.82H599.51" stroke="#A6A7A9" stroke-width="1.45" fill="none" stroke-dasharray="2.6 2.6"/>
<path d="M609.49 462.15H613.77M611.63 462.15V464.75M609.49 464.75H613.77" stroke="#A6A7A9" stroke-width="1.45" fill="none" stroke-dasharray="2.6 2.6"/>
<path d="M623.75 459.75H628.02M625.88 459.75V462.53M623.75 462.53H628.02" stroke="#A6A7A9" stroke-width="1.45" fill="none" stroke-dasharray="2.6 2.6"/>
<path d="M638.00 457.18H642.28M640.14 457.18V460.15M638.00 460.15H642.28" stroke="#A6A7A9" stroke-width="1.45" fill="none" stroke-dasharray="2.6 2.6"/>
<path d="M652.26 454.29H656.53M654.39 454.29V457.68M652.26 457.68H656.53" stroke="#A6A7A9" stroke-width="1.45" fill="none" stroke-dasharray="2.6 2.6"/>
<path d="M666.51 449.12H670.79M668.65 449.12V456.85M666.51 456.85H670.79" stroke="#A6A7A9" stroke-width="1.45" fill="none" stroke-dasharray="2.6 2.6"/>
<path d="M381.41 346.06H385.69M383.55 346.06V472.17M381.41 472.17H385.69M395.67 354.23H399.94M397.81 354.23V471.13M395.67 471.13H399.94M409.92 361.94H414.20M412.06 361.94V470.04M409.92 470.04H414.20M424.18 369.22H428.45M426.31 369.22V468.92M424.18 468.92H428.45M438.43 376.08H442.71M440.57 376.08V467.74M438.43 467.74H442.71M452.69 382.57H456.96M454.83 382.57V466.51M452.69 466.51H456.96M466.94 388.68H471.22M469.08 388.68V465.24M466.94 465.24H471.22M481.20 394.44H485.47M483.34 394.44V463.92M481.20 463.92H485.47M495.45 399.87H499.73M497.59 399.87V462.54M495.45 462.54H499.73M509.71 404.99H513.98M511.85 404.99V461.12M509.71 461.12H513.98M523.96 409.80H528.24M526.10 409.80V459.64M523.96 459.64H528.24M538.22 414.31H542.49M540.36 414.31V458.13M538.22 458.13H542.49M552.47 418.52H556.75M554.61 418.52V456.57M552.47 456.57H556.75M566.73 422.44H571.00M568.87 422.44V455.00M566.73 455.00H571.00M580.98 426.05H585.26M583.12 426.05V453.43M580.98 453.43H585.26M595.24 429.30H599.51M597.38 429.30V451.92M595.24 451.92H599.51M609.49 432.10H613.77M611.63 432.10V450.57M609.49 450.57H613.77M623.75 434.28H628.02M625.88 434.28V449.56M623.75 449.56H628.02M638.00 435.55H642.28M640.14 435.55V449.18M638.00 449.18H642.28M652.26 435.68H656.53M654.39 435.68V449.66M652.26 449.66H656.53M666.51 434.78H670.79M668.65 434.78V450.91M666.51 450.91H670.79" stroke="#222222" stroke-width="1.45" fill="none"/>
<path d="M383.55 435.95L397.81 436.38L412.06 436.80L426.31 437.21L440.57 437.62L454.83 438.03L469.08 438.42L483.34 438.82L497.59 439.20L511.85 439.58L526.10 439.96L540.36 440.33L554.61 440.70L568.87 441.06L583.12 441.42L597.38 441.77L611.63 442.11L625.88 442.46L640.14 442.79L654.39 443.12L668.65 443.45" stroke="#222222" stroke-width="1.45" fill="none"/>
<path d="M383.55 484.81L397.81 484.05L412.06 483.24L426.31 482.38L440.57 481.45L454.83 480.46L469.08 479.40L483.34 478.26L497.59 477.04L511.85 475.74L526.10 474.33L540.36 472.83L554.61 471.22L568.87 469.48L583.12 467.62L597.38 465.62L611.63 463.48L625.88 461.17L640.14 458.69L654.39 456.02L668.65 453.15" stroke="#A6A7A9" stroke-width="1.45" fill="none" stroke-dasharray="2.6 2.6"/>
<circle cx="383.55" cy="435.95" r="2.75" fill="#222222"/>
<circle cx="383.55" cy="484.81" r="2.85" fill="#A6A7A9"/>
<circle cx="397.81" cy="436.38" r="2.75" fill="#222222"/>
<circle cx="397.81" cy="484.05" r="2.85" fill="#A6A7A9"/>
<circle cx="412.06" cy="436.80" r="2.75" fill="#222222"/>
<circle cx="412.06" cy="483.24" r="2.85" fill="#A6A7A9"/>
<circle cx="426.31" cy="437.21" r="2.75" fill="#222222"/>
<circle cx="426.31" cy="482.38" r="2.85" fill="#A6A7A9"/>
<circle cx="440.57" cy="437.62" r="2.75" fill="#222222"/>
<circle cx="440.57" cy="481.45" r="2.85" fill="#A6A7A9"/>
<circle cx="454.83" cy="438.03" r="2.75" fill="#222222"/>
<circle cx="454.83" cy="480.46" r="2.85" fill="#A6A7A9"/>
<circle cx="469.08" cy="438.42" r="2.75" fill="#222222"/>
<circle cx="469.08" cy="479.40" r="2.85" fill="#A6A7A9"/>
<circle cx="483.34" cy="438.82" r="2.75" fill="#222222"/>
<circle cx="483.34" cy="478.26" r="2.85" fill="#A6A7A9"/>
<circle cx="497.59" cy="439.20" r="2.75" fill="#222222"/>
<circle cx="497.59" cy="477.04" r="2.85" fill="#A6A7A9"/>
<circle cx="511.85" cy="439.58" r="2.75" fill="#222222"/>
<circle cx="511.85" cy="475.74" r="2.85" fill="#A6A7A9"/>
<circle cx="526.10" cy="439.96" r="2.75" fill="#222222"/>
<circle cx="526.10" cy="474.33" r="2.85" fill="#A6A7A9"/>
<circle cx="540.36" cy="440.33" r="2.75" fill="#222222"/>
<circle cx="540.36" cy="472.83" r="2.85" fill="#A6A7A9"/>
<circle cx="554.61" cy="440.70" r="2.75" fill="#222222"/>
<circle cx="554.61" cy="471.22" r="2.85" fill="#A6A7A9"/>
<circle cx="568.87" cy="441.06" r="2.75" fill="#222222"/>
<circle cx="568.87" cy="469.48" r="2.85" fill="#A6A7A9"/>
<circle cx="583.12" cy="441.42" r="2.75" fill="#222222"/>
<circle cx="583.12" cy="467.62" r="2.85" fill="#A6A7A9"/>
<circle cx="597.38" cy="441.77" r="2.75" fill="#222222"/>
<circle cx="597.38" cy="465.62" r="2.85" fill="#A6A7A9"/>
<circle cx="611.63" cy="442.11" r="2.75" fill="#222222"/>
<circle cx="611.63" cy="463.48" r="2.85" fill="#A6A7A9"/>
<circle cx="625.88" cy="442.46" r="2.75" fill="#222222"/>
<circle cx="625.88" cy="461.17" r="2.85" fill="#A6A7A9"/>
<circle cx="640.14" cy="442.79" r="2.75" fill="#222222"/>
<circle cx="640.14" cy="458.69" r="2.85" fill="#A6A7A9"/>
<circle cx="654.39" cy="443.12" r="2.75" fill="#222222"/>
<circle cx="654.39" cy="456.02" r="2.85" fill="#A6A7A9"/>
<circle cx="668.65" cy="443.45" r="2.75" fill="#222222"/>
<circle cx="668.65" cy="453.15" r="2.85" fill="#A6A7A9"/>
<line x1="367.00" x2="685.70" y1="467.98" y2="467.98" stroke="#2a2a2a" stroke-width="1.45" stroke-dasharray="5.2 5.2" stroke-dashoffset="-0.7"/>
</g>
<path d="M367.00 286.10H685.70M367.00 500.60H685.70M367.60 286.10V500.60M685.10 286.10V500.60" fill="none" stroke="#B3B3B3" stroke-width="1.0"/>
<line x1="383.55" x2="383.55" y1="500.60" y2="505.10" stroke="#B3B3B3" stroke-width="0.9"/>
<text transform="translate(383.55,521.10) scale(1,1.07)" font-size="14.5" fill="#595959" text-anchor="middle">0</text>
<line x1="454.83" x2="454.83" y1="500.60" y2="505.10" stroke="#B3B3B3" stroke-width="0.9"/>
<text transform="translate(454.83,521.10) scale(1,1.07)" font-size="14.5" fill="#595959" text-anchor="middle">5</text>
<line x1="526.10" x2="526.10" y1="500.60" y2="505.10" stroke="#B3B3B3" stroke-width="0.9"/>
<text transform="translate(526.10,521.10) scale(1,1.07)" font-size="14.5" fill="#595959" text-anchor="middle">10</text>
<line x1="597.38" x2="597.38" y1="500.60" y2="505.10" stroke="#B3B3B3" stroke-width="0.9"/>
<text transform="translate(597.38,521.10) scale(1,1.07)" font-size="14.5" fill="#595959" text-anchor="middle">15</text>
<line x1="668.65" x2="668.65" y1="500.60" y2="505.10" stroke="#B3B3B3" stroke-width="0.9"/>
<text transform="translate(668.65,521.10) scale(1,1.07)" font-size="14.5" fill="#595959" text-anchor="middle">20</text>
<defs><clipPath id="c4"><rect x="39.10" y="541.20" width="318.70" height="214.50"/></clipPath></defs>
<rect x="39.10" y="510.20" width="318.70" height="31.00" fill="#BDBEC0"/>
<text x="198.45" y="530.80" font-size="14.8" fill="#fff" text-anchor="middle">5 at 5y, 11 at 10y, 18 at 20y</text>
<g clip-path="url(#c4)">
<line x1="39.10" x2="357.80" y1="751.70" y2="751.70" stroke="#E0E0E0" stroke-width="0.9"/>
<line x1="39.10" x2="357.80" y1="694.46" y2="694.46" stroke="#E0E0E0" stroke-width="0.9"/>
<line x1="39.10" x2="357.80" y1="637.22" y2="637.22" stroke="#E0E0E0" stroke-width="0.9"/>
<line x1="39.10" x2="357.80" y1="579.98" y2="579.98" stroke="#E0E0E0" stroke-width="0.9"/>
<line x1="55.95" x2="55.95" y1="541.20" y2="755.70" stroke="#E0E0E0" stroke-width="0.9"/>
<line x1="127.23" x2="127.23" y1="541.20" y2="755.70" stroke="#E0E0E0" stroke-width="0.9"/>
<line x1="198.50" x2="198.50" y1="541.20" y2="755.70" stroke="#E0E0E0" stroke-width="0.9"/>
<line x1="269.78" x2="269.78" y1="541.20" y2="755.70" stroke="#E0E0E0" stroke-width="0.9"/>
<line x1="341.05" x2="341.05" y1="541.20" y2="755.70" stroke="#E0E0E0" stroke-width="0.9"/>
<path d="M53.81 730.68H58.09M55.95 730.68V743.81M53.81 743.81H58.09" stroke="#A6A7A9" stroke-width="1.45" fill="none" stroke-dasharray="2.6 2.6"/>
<path d="M68.07 730.01H72.34M70.20 730.01V743.04M68.07 743.04H72.34" stroke="#A6A7A9" stroke-width="1.45" fill="none" stroke-dasharray="2.6 2.6"/>
<path d="M82.32 729.32H86.60M84.46 729.32V742.19M82.32 742.19H86.60" stroke="#A6A7A9" stroke-width="1.45" fill="none" stroke-dasharray="2.6 2.6"/>
<path d="M96.58 728.61H100.85M98.72 728.61V741.26M96.58 741.26H100.85" stroke="#A6A7A9" stroke-width="1.45" fill="none" stroke-dasharray="2.6 2.6"/>
<path d="M110.83 727.88H115.11M112.97 727.88V740.23M110.83 740.23H115.11" stroke="#A6A7A9" stroke-width="1.45" fill="none" stroke-dasharray="2.6 2.6"/>
<path d="M125.09 727.12H129.36M127.23 727.12V739.11M125.09 739.11H129.36" stroke="#A6A7A9" stroke-width="1.45" fill="none" stroke-dasharray="2.6 2.6"/>
<path d="M139.34 726.34H143.62M141.48 726.34V737.87M139.34 737.87H143.62" stroke="#A6A7A9" stroke-width="1.45" fill="none" stroke-dasharray="2.6 2.6"/>
<path d="M153.60 725.54H157.87M155.74 725.54V736.50M153.60 736.50H157.87" stroke="#A6A7A9" stroke-width="1.45" fill="none" stroke-dasharray="2.6 2.6"/>
<path d="M167.85 724.72H172.13M169.99 724.72V734.99M167.85 734.99H172.13" stroke="#A6A7A9" stroke-width="1.45" fill="none" stroke-dasharray="2.6 2.6"/>
<path d="M182.11 723.88H186.38M184.25 723.88V733.33M182.11 733.33H186.38" stroke="#A6A7A9" stroke-width="1.45" fill="none" stroke-dasharray="2.6 2.6"/>
<path d="M196.36 723.04H200.64M198.50 723.04V731.49M196.36 731.49H200.64" stroke="#A6A7A9" stroke-width="1.45" fill="none" stroke-dasharray="2.6 2.6"/>
<path d="M210.62 722.19H214.89M212.75 722.19V729.44M210.62 729.44H214.89" stroke="#A6A7A9" stroke-width="1.45" fill="none" stroke-dasharray="2.6 2.6"/>
<path d="M224.87 721.38H229.15M227.01 721.38V727.13M224.87 727.13H229.15" stroke="#A6A7A9" stroke-width="1.45" fill="none" stroke-dasharray="2.6 2.6"/>
<path d="M239.13 720.70H243.40M241.26 720.70V724.44M239.13 724.44H243.40" stroke="#A6A7A9" stroke-width="1.45" fill="none" stroke-dasharray="2.6 2.6"/>
<path d="M253.38 719.50H257.66M255.52 719.50V721.93M253.38 721.93H257.66" stroke="#A6A7A9" stroke-width="1.45" fill="none" stroke-dasharray="2.6 2.6"/>
<path d="M267.64 717.40H271.91M269.78 717.40V719.99M267.64 719.99H271.91" stroke="#A6A7A9" stroke-width="1.45" fill="none" stroke-dasharray="2.6 2.6"/>
<path d="M281.89 715.17H286.17M284.03 715.17V717.92M281.89 717.92H286.17" stroke="#A6A7A9" stroke-width="1.45" fill="none" stroke-dasharray="2.6 2.6"/>
<path d="M296.15 712.78H300.42M298.29 712.78V715.72M296.15 715.72H300.42" stroke="#A6A7A9" stroke-width="1.45" fill="none" stroke-dasharray="2.6 2.6"/>
<path d="M310.40 710.24H314.68M312.54 710.24V713.37M310.40 713.37H314.68" stroke="#A6A7A9" stroke-width="1.45" fill="none" stroke-dasharray="2.6 2.6"/>
<path d="M324.66 707.42H328.93M326.80 707.42V710.97M324.66 710.97H328.93" stroke="#A6A7A9" stroke-width="1.45" fill="none" stroke-dasharray="2.6 2.6"/>
<path d="M338.91 702.25H343.19M341.05 702.25V710.30M338.91 710.30H343.19" stroke="#A6A7A9" stroke-width="1.45" fill="none" stroke-dasharray="2.6 2.6"/>
<path d="M53.81 594.78H58.09M55.95 594.78V726.07M53.81 726.07H58.09M68.07 603.50H72.34M70.20 603.50V724.97M68.07 724.97H72.34M82.32 611.74H86.60M84.46 611.74V723.82M82.32 723.82H86.60M96.58 619.51H100.85M98.72 619.51V722.63M96.58 722.63H100.85M110.83 626.84H115.11M112.97 626.84V721.39M110.83 721.39H115.11M125.09 633.76H129.36M127.23 633.76V720.10M125.09 720.10H129.36M139.34 640.28H143.62M141.48 640.28V718.76M139.34 718.76H143.62M153.60 646.43H157.87M155.74 646.43V717.37M153.60 717.37H157.87M167.85 652.23H172.13M169.99 652.23V715.93M167.85 715.93H172.13M182.11 657.68H186.38M184.25 657.68V714.44M182.11 714.44H186.38M196.36 662.81H200.64M198.50 662.81V712.90M196.36 712.90H200.64M210.62 667.61H214.89M212.75 667.61V711.32M210.62 711.32H214.89M224.87 672.10H229.15M227.01 672.10V709.71M224.87 709.71H229.15M239.13 676.28H243.40M241.26 676.28V708.08M239.13 708.08H243.40M253.38 680.11H257.66M255.52 680.11V706.47M253.38 706.47H257.66M267.64 683.55H271.91M269.78 683.55V704.93M267.64 704.93H271.91M281.89 686.47H286.17M284.03 686.47V703.61M281.89 703.61H286.17M296.15 688.64H300.42M298.29 688.64V702.75M296.15 702.75H300.42M310.40 689.70H314.68M312.54 689.70V702.70M310.40 702.70H314.68M324.66 689.49H328.93M326.80 689.49V703.64M324.66 703.64H328.93M338.91 688.28H343.19M341.05 688.28V705.32M338.91 705.32H343.19" stroke="#222222" stroke-width="1.45" fill="none"/>
<path d="M55.95 688.28L70.20 688.76L84.46 689.23L98.72 689.71L112.97 690.18L127.23 690.65L141.48 691.12L155.74 691.58L169.99 692.05L184.25 692.51L198.50 692.97L212.75 693.43L227.01 693.89L241.26 694.34L255.52 694.79L269.78 695.24L284.03 695.69L298.29 696.14L312.54 696.58L326.80 697.03L341.05 697.47" stroke="#222222" stroke-width="1.45" fill="none"/>
<path d="M55.95 738.82L70.20 737.99L84.46 737.11L98.72 736.17L112.97 735.17L127.23 734.11L141.48 732.97L155.74 731.76L169.99 730.47L184.25 729.10L198.50 727.63L212.75 726.07L227.01 724.40L241.26 722.63L255.52 720.74L269.78 718.72L284.03 716.57L298.29 714.28L312.54 711.84L326.80 709.23L341.05 706.45" stroke="#A6A7A9" stroke-width="1.45" fill="none" stroke-dasharray="2.6 2.6"/>
<circle cx="55.95" cy="688.28" r="2.75" fill="#222222"/>
<circle cx="55.95" cy="738.82" r="2.85" fill="#A6A7A9"/>
<circle cx="70.20" cy="688.76" r="2.75" fill="#222222"/>
<circle cx="70.20" cy="737.99" r="2.85" fill="#A6A7A9"/>
<circle cx="84.46" cy="689.23" r="2.75" fill="#222222"/>
<circle cx="84.46" cy="737.11" r="2.85" fill="#A6A7A9"/>
<circle cx="98.72" cy="689.71" r="2.75" fill="#222222"/>
<circle cx="98.72" cy="736.17" r="2.85" fill="#A6A7A9"/>
<circle cx="112.97" cy="690.18" r="2.75" fill="#222222"/>
<circle cx="112.97" cy="735.17" r="2.85" fill="#A6A7A9"/>
<circle cx="127.23" cy="690.65" r="2.75" fill="#222222"/>
<circle cx="127.23" cy="734.11" r="2.85" fill="#A6A7A9"/>
<circle cx="141.48" cy="691.12" r="2.75" fill="#222222"/>
<circle cx="141.48" cy="732.97" r="2.85" fill="#A6A7A9"/>
<circle cx="155.74" cy="691.58" r="2.75" fill="#222222"/>
<circle cx="155.74" cy="731.76" r="2.85" fill="#A6A7A9"/>
<circle cx="169.99" cy="692.05" r="2.75" fill="#222222"/>
<circle cx="169.99" cy="730.47" r="2.85" fill="#A6A7A9"/>
<circle cx="184.25" cy="692.51" r="2.75" fill="#222222"/>
<circle cx="184.25" cy="729.10" r="2.85" fill="#A6A7A9"/>
<circle cx="198.50" cy="692.97" r="2.75" fill="#222222"/>
<circle cx="198.50" cy="727.63" r="2.85" fill="#A6A7A9"/>
<circle cx="212.75" cy="693.43" r="2.75" fill="#222222"/>
<circle cx="212.75" cy="726.07" r="2.85" fill="#A6A7A9"/>
<circle cx="227.01" cy="693.89" r="2.75" fill="#222222"/>
<circle cx="227.01" cy="724.40" r="2.85" fill="#A6A7A9"/>
<circle cx="241.26" cy="694.34" r="2.75" fill="#222222"/>
<circle cx="241.26" cy="722.63" r="2.85" fill="#A6A7A9"/>
<circle cx="255.52" cy="694.79" r="2.75" fill="#222222"/>
<circle cx="255.52" cy="720.74" r="2.85" fill="#A6A7A9"/>
<circle cx="269.78" cy="695.24" r="2.75" fill="#222222"/>
<circle cx="269.78" cy="718.72" r="2.85" fill="#A6A7A9"/>
<circle cx="284.03" cy="695.69" r="2.75" fill="#222222"/>
<circle cx="284.03" cy="716.57" r="2.85" fill="#A6A7A9"/>
<circle cx="298.29" cy="696.14" r="2.75" fill="#222222"/>
<circle cx="298.29" cy="714.28" r="2.85" fill="#A6A7A9"/>
<circle cx="312.54" cy="696.58" r="2.75" fill="#222222"/>
<circle cx="312.54" cy="711.84" r="2.85" fill="#A6A7A9"/>
<circle cx="326.80" cy="697.03" r="2.75" fill="#222222"/>
<circle cx="326.80" cy="709.23" r="2.85" fill="#A6A7A9"/>
<circle cx="341.05" cy="697.47" r="2.75" fill="#222222"/>
<circle cx="341.05" cy="706.45" r="2.85" fill="#A6A7A9"/>
<line x1="39.10" x2="357.80" y1="723.08" y2="723.08" stroke="#2a2a2a" stroke-width="1.45" stroke-dasharray="5.2 5.2" stroke-dashoffset="-0.7"/>
</g>
<path d="M39.10 541.20H357.80M39.10 755.70H357.80M39.70 541.20V755.70M357.20 541.20V755.70" fill="none" stroke="#B3B3B3" stroke-width="1.0"/>
<line x1="34.60" x2="39.10" y1="751.70" y2="751.70" stroke="#B3B3B3" stroke-width="0.9"/>
<text transform="translate(31.30,757.40) scale(1,1.07)" font-size="14.5" fill="#595959" text-anchor="end">0</text>
<line x1="34.60" x2="39.10" y1="694.46" y2="694.46" stroke="#B3B3B3" stroke-width="0.9"/>
<text transform="translate(31.30,700.16) scale(1,1.07)" font-size="14.5" fill="#595959" text-anchor="end">2</text>
<line x1="34.60" x2="39.10" y1="637.22" y2="637.22" stroke="#B3B3B3" stroke-width="0.9"/>
<text transform="translate(31.30,642.92) scale(1,1.07)" font-size="14.5" fill="#595959" text-anchor="end">4</text>
<line x1="34.60" x2="39.10" y1="579.98" y2="579.98" stroke="#B3B3B3" stroke-width="0.9"/>
<text transform="translate(31.30,585.68) scale(1,1.07)" font-size="14.5" fill="#595959" text-anchor="end">6</text>
<line x1="55.95" x2="55.95" y1="755.70" y2="760.20" stroke="#B3B3B3" stroke-width="0.9"/>
<text transform="translate(55.95,776.20) scale(1,1.07)" font-size="14.5" fill="#595959" text-anchor="middle">0</text>
<line x1="127.23" x2="127.23" y1="755.70" y2="760.20" stroke="#B3B3B3" stroke-width="0.9"/>
<text transform="translate(127.23,776.20) scale(1,1.07)" font-size="14.5" fill="#595959" text-anchor="middle">5</text>
<line x1="198.50" x2="198.50" y1="755.70" y2="760.20" stroke="#B3B3B3" stroke-width="0.9"/>
<text transform="translate(198.50,776.20) scale(1,1.07)" font-size="14.5" fill="#595959" text-anchor="middle">10</text>
<line x1="269.78" x2="269.78" y1="755.70" y2="760.20" stroke="#B3B3B3" stroke-width="0.9"/>
<text transform="translate(269.78,776.20) scale(1,1.07)" font-size="14.5" fill="#595959" text-anchor="middle">15</text>
<line x1="341.05" x2="341.05" y1="755.70" y2="760.20" stroke="#B3B3B3" stroke-width="0.9"/>
<text transform="translate(341.05,776.20) scale(1,1.07)" font-size="14.5" fill="#595959" text-anchor="middle">20</text>
<text x="362.4" y="799" font-size="18.4" fill="#1a1a1a" text-anchor="middle">Life Expectancy</text>
<text transform="translate(13.9,393.1) rotate(-90)" x="0" y="0" font-size="18.48" fill="#1a1a1a" text-anchor="middle">Odds Ratio (Treatment / No Treatment)</text>
<line x1="277.6" x2="294.8" y1="842.4" y2="842.4" stroke="#222222" stroke-width="1.45"/>
<circle cx="286.2" cy="842.4" r="2.75" fill="#222222"/>
<text x="306.3" y="848.5" font-size="14.5" fill="#1a1a1a">Black</text>
<line x1="353.1" x2="370.1" y1="842.4" y2="842.4" stroke="#A6A7A9" stroke-width="1.45" stroke-dasharray="2.6 2.6"/>
<circle cx="361.6" cy="842.4" r="2.85" fill="#A6A7A9"/>
<text x="381.3" y="848.5" font-size="14.5" fill="#1a1a1a">Non-Black</text>
</svg></body></html>
